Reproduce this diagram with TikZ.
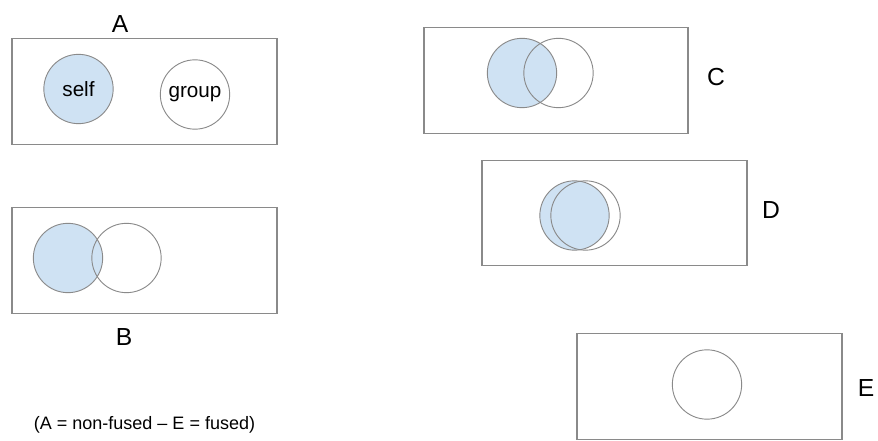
\documentclass[tikz,border=0pt]{standalone}
\usepackage{fontspec}
\setmainfont{Liberation Sans}
\definecolor{fillblue}{HTML}{CFE2F3}
\definecolor{edgegray}{HTML}{8A8A8A}
\begin{document}
\begin{tikzpicture}[x=0.75pt,y=-0.75pt,
  panel/.style={draw=edgegray,line width=0.8pt,minimum width=#1*0.75pt,minimum height=79pt,inner sep=0pt},
  blob/.style={circle,draw=edgegray,line width=0.7pt,minimum size=52pt,inner sep=0pt,font=\fontsize{15.5}{18}\selectfont},
  filled/.style={blob,fill=fillblue},
  letter/.style={font=\fontsize{18.5}{22}\selectfont,inner sep=0pt},
  caption/.style={font=\fontsize{13.5}{16}\selectfont,inner sep=0pt}]
\useasboundingbox (0,0) rectangle (878,441);
% panels
\node[panel=265] (pA) at (144.5,91.5) {};
\node[panel=265] (pB) at (144.5,260.5) {};
\node[panel=264] (pC) at (556,80.5) {};
\node[panel=265] (pD) at (614.5,213) {};
\node[panel=265] (pE) at (709.5,386.5) {};
% circles
\node[filled] (aself) at (78.5,89) {self};
\node[blob] (agroup) at (195,94.5) {group};
\node[filled] (bself) at (68,258) {};
\node[blob] (bgroup) at (126.5,258) {};
\node[filled] (cself) at (522,73) {};
\node[blob] (cgroup) at (558.5,73) {};
\node[filled] (dself) at (574.5,215.5) {};
\node[blob] (dgroup) at (585.5,215.5) {};
\node[blob] (eone) at (707,384.5) {};
% labels
\node[letter] (lA) at (120,24) {A};
\node[letter] (lB) at (124,337) {B};
\node[letter] (lC) at (716,77) {C};
\node[letter] (lD) at (771,210) {D};
\node[letter] (lE) at (866,388) {E};
\node[caption] (cap) at (144.5,425) {(A = non-fused – E = fused)};
\end{tikzpicture}
\end{document}
